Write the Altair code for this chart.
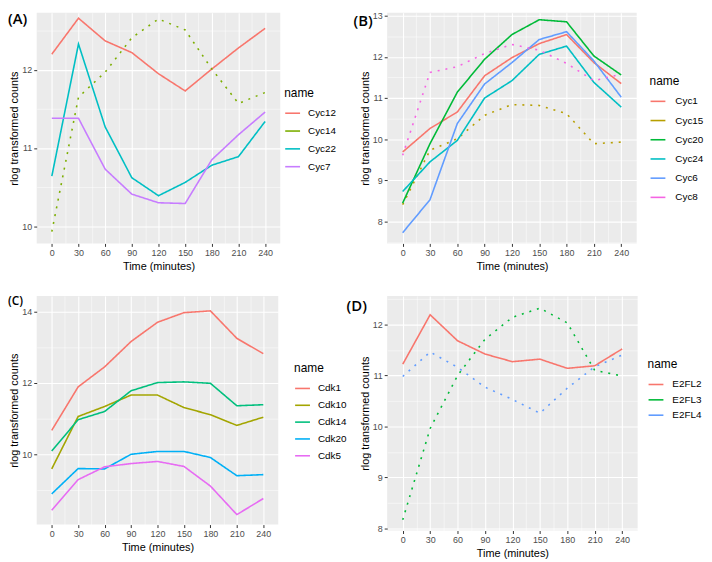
import altair as alt
import pandas as pd

times = [0, 30, 60, 90, 120, 150, 180, 210, 240]
x_minor = [15, 45, 75, 105, 135, 165, 195, 225]

# Panel A
a_names = ["Cyc12", "Cyc14", "Cyc22", "Cyc7"]
a_cyc12 = [12.20, 12.66, 12.37, 12.22, 11.95, 11.73, 12.01, 12.28, 12.53]
a_cyc14 = [9.93, 11.65, 11.97, 12.41, 12.65, 12.51, 12.01, 11.57, 11.71]
a_cyc22 = [10.64, 12.33, 11.27, 10.62, 10.39, 10.56, 10.78, 10.89, 11.34]
a_cyc7 = [11.38, 11.38, 10.73, 10.41, 10.30, 10.29, 10.85, 11.17, 11.46]
a_dotted = ["Cyc14"]
a_colors = ["#F8766D", "#7CAE00", "#00BFC4", "#C77CFF"]

# Panel B
b_names = ["Cyc1", "Cyc15", "Cyc20", "Cyc24", "Cyc6", "Cyc8"]
b_cyc1 = [9.69, 10.26, 10.66, 11.54, 11.98, 12.32, 12.54, 11.86, 11.35]
b_cyc15 = [8.41, 9.73, 10.01, 10.58, 10.84, 10.82, 10.62, 9.89, 9.93]
b_cyc20 = [8.45, 9.89, 11.14, 11.94, 12.54, 12.90, 12.85, 12.02, 11.56]
b_cyc24 = [8.73, 9.45, 9.97, 11.00, 11.42, 12.06, 12.26, 11.38, 10.78]
b_cyc6 = [7.73, 8.53, 10.38, 11.34, 11.86, 12.42, 12.61, 11.90, 11.02]
b_cyc8 = [9.61, 11.62, 11.76, 12.08, 12.30, 12.16, 11.84, 11.42, 11.58]
b_dotted = ["Cyc15", "Cyc8"]
b_colors = ["#F8766D", "#B79F00", "#00BA38", "#00BFC4", "#619CFF", "#F564E3"]

# Panel C
c_names = ["Cdk1", "Cdk10", "Cdk14", "Cdk20", "Cdk5"]
c_cdk1 = [10.67, 11.89, 12.45, 13.16, 13.70, 13.97, 14.02, 13.25, 12.82]
c_cdk10 = [9.59, 11.06, 11.34, 11.66, 11.66, 11.31, 11.11, 10.81, 11.04]
c_cdk14 = [10.09, 10.97, 11.20, 11.78, 12.01, 12.03, 11.99, 11.36, 11.39]
c_cdk20 = [8.89, 9.60, 9.59, 10.00, 10.08, 10.08, 9.91, 9.40, 9.43]
c_cdk5 = [8.43, 9.29, 9.65, 9.74, 9.80, 9.66, 9.11, 8.31, 8.76]
c_dotted = []
c_colors = ["#F8766D", "#A3A500", "#00BF7D", "#00B0F6", "#E76BF3"]

# Panel D
d_names = ["E2FL2", "E2FL3", "E2FL4"]
d_e2fl2 = [11.22, 12.19, 11.68, 11.42, 11.27, 11.32, 11.14, 11.19, 11.52]
d_e2fl3 = [8.17, 9.96, 11.00, 11.71, 12.14, 12.32, 12.03, 11.10, 10.99]
d_e2fl4 = [10.98, 11.46, 11.16, 10.77, 10.53, 10.26, 10.75, 11.17, 11.40]
d_dotted = ["E2FL3", "E2FL4"]
d_colors = ["#F8766D", "#00BA38", "#619CFF"]

FONT = "Liberation Sans"


def panel(series, names, colors, dotted, ydom, ymajor, yminor, w, h,
          label, lab_xy, lab_size, leg_xy, leg_row, lab_offset, leg_tpad):
    rows = []
    for n, vals in zip(names, series):
        for t, v in zip(times, vals):
            rows.append({"time": t, "value": v, "name": n,
                         "style": "dot" if n in dotted else "solid"})
    df = pd.DataFrame(rows)
    xs = alt.Scale(domain=[-17, 257], nice=False, zero=False)
    ys = alt.Scale(domain=ydom, nice=False, zero=False)
    lines = alt.Chart(df).mark_line(strokeWidth=1.6).encode(
        x=alt.X("time:Q", scale=xs,
                axis=alt.Axis(values=times, title="Time (minutes)", orient="bottom",
                              grid=True, gridWidth=1.1, titlePadding=3)),
        y=alt.Y("value:Q", scale=ys,
                axis=alt.Axis(values=ymajor, title="rlog transformed counts", orient="left",
                              grid=True, gridWidth=1.1, titlePadding=2, format="d")),
        color=alt.Color("name:N", scale=alt.Scale(domain=names, range=colors),
                        legend=alt.Legend(orient="none", legendX=leg_xy[0], legendY=leg_xy[1],
                                          title="name", rowPadding=leg_row,
                                          labelOffset=lab_offset, titlePadding=leg_tpad)),
        strokeDash=alt.StrokeDash("style:N",
                                  scale=alt.Scale(domain=["solid", "dot"], range=[[1, 0], [2, 6]]),
                                  legend=None),
        detail="name:N",
    )
    minor = alt.Chart(df).mark_line(opacity=0).encode(
        x=alt.X("time:Q", scale=xs,
                axis=alt.Axis(values=x_minor, grid=True, gridWidth=0.5, labels=False,
                              ticks=False, domain=False, title=None, orient="top")),
        y=alt.Y("value:Q", scale=ys,
                axis=alt.Axis(values=yminor, grid=True, gridWidth=0.5, labels=False,
                              ticks=False, domain=False, title=None, orient="right")),
        detail="name:N",
    )
    lab = alt.Chart(pd.DataFrame({"t": [label]})).mark_text(
        align="left", baseline="middle", fontSize=lab_size, font="Open Sans", fontWeight=600,
        color="black"
    ).encode(x=alt.value(lab_xy[0]), y=alt.value(lab_xy[1]), text="t:N")
    return alt.layer(lines, minor, lab).resolve_axis(
        x="independent", y="independent").properties(width=w, height=h)


pA = panel([a_cyc12, a_cyc14, a_cyc22, a_cyc7], a_names, a_colors, a_dotted,
           [9.78, 12.73], [10, 11, 12], [10.5, 11.5, 12.5], 246, 233,
           "(A)", (-29, 6), 15, (250, 76), 4, 7, 5)
pB = panel([b_cyc1, b_cyc15, b_cyc20, b_cyc24, b_cyc6, b_cyc8], b_names, b_colors, b_dotted,
           [7.47, 13.07], [8, 9, 10, 11, 12, 13], [7.5, 8.5, 9.5, 10.5, 11.5, 12.5],
           252, 233, "(B)", (-34, 8), 15, (265, 64), 5.4, 9, 5)
pC = panel([c_cdk1, c_cdk10, c_cdk14, c_cdk20, c_cdk5], c_names, c_colors, c_dotted,
           [8.03, 14.44], [10, 12, 14], [9, 11, 13], 244, 231,
           "(C)", (-29, 5), 12, (260, 68), 3, 7, 5)
pD = panel([d_e2fl2, d_e2fl3, d_e2fl4], d_names, d_colors, d_dotted,
           [7.96, 12.56], [8, 9, 10, 11, 12], [8.5, 9.5, 10.5, 11.5, 12.5], 253, 237,
           "(D)", (-41, 10), 15, (263, 64), 1.5, 8, 5)

chart = alt.concat(
    pA, pB, pC, pD, columns=2,
    spacing={"row": 53, "column": 108}, bounds="flush", align="each",
).resolve_scale(
    x="independent", y="independent", color="independent", strokeDash="independent"
).properties(padding=0).configure(font=FONT).configure_view(
    fill="#EBEBEB", stroke=None
).configure_axis(
    labelColor="#4D4D4D", labelFontSize=9, labelFont=FONT, tickColor="#333333",
    tickSize=3, domain=False, gridColor="white", titleFontSize=11,
    titleFontWeight="normal", titleColor="black", titleFont=FONT, labelPadding=2
).configure_legend(
    labelFontSize=10, labelFont=FONT, labelColor="black", titleFontSize=12,
    titleFont=FONT, titleFontWeight="normal", titleColor="black",
    symbolType="stroke", symbolStrokeWidth=1.6, symbolSize=225
)

chart.save("out.html", embed_options={"renderer": "svg", "actions": False})
